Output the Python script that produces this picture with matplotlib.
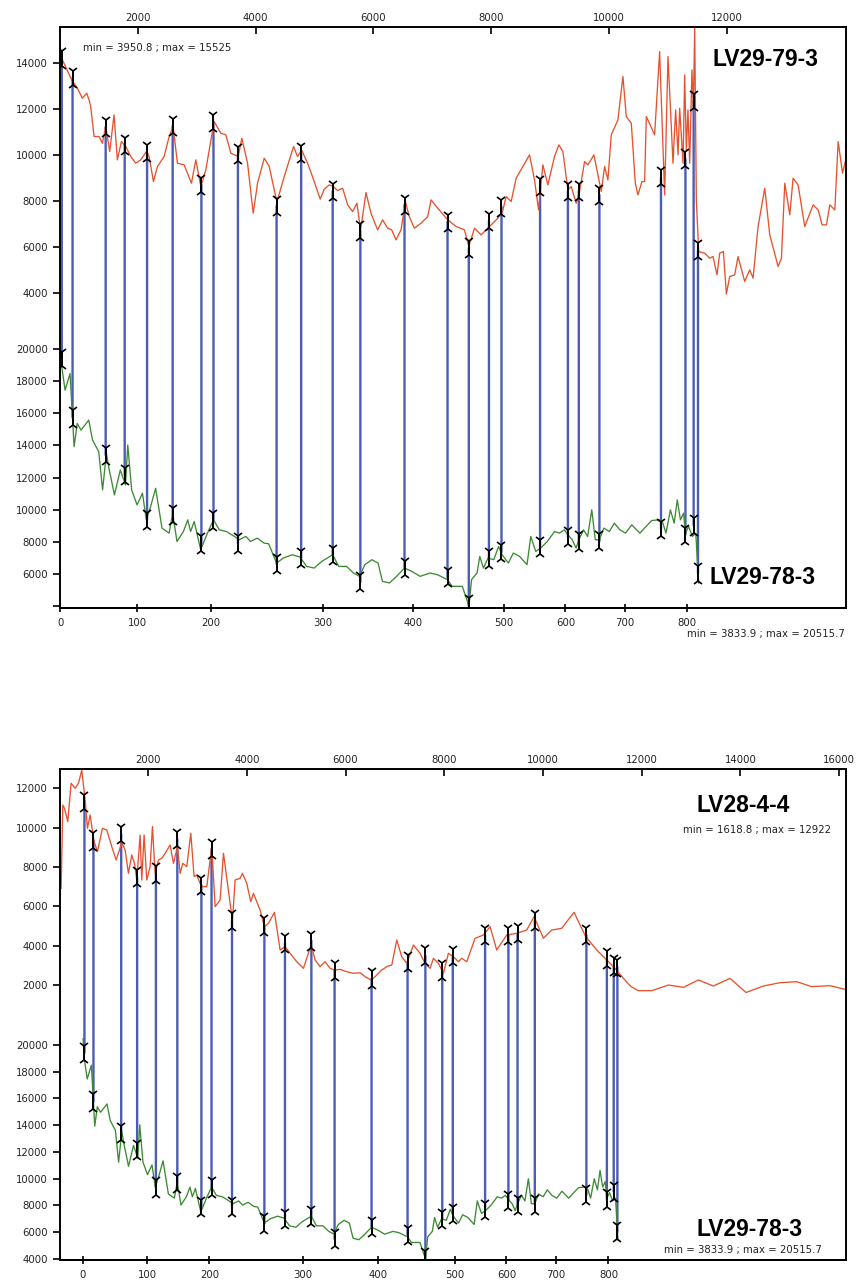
import numpy as np
import matplotlib
matplotlib.use('Agg')
import matplotlib.pyplot as plt
from matplotlib.patches import ConnectionPatch
from matplotlib.transforms import offset_copy

#==========================================================
# data
#==========================================================
# LV29-79-3 (top core of panel 1), depth on top axis
red1_depth = [708, 878, 975, 1059, 1133, 1173, 1201, 1258, 1343, 1399,
              1456, 1524, 1597, 1654, 1722, 1796, 1881, 1966, 2050, 2147,
              2192, 2266, 2334, 2447, 2532, 2600, 2673, 2787, 2911, 2985,
              3070, 3155, 3296, 3410, 3495, 3580, 3704, 3766, 3863, 3959,
              4033, 4146, 4231, 4361, 4486, 4644, 4712, 4780, 4882, 4995,
              5097, 5165, 5250, 5318, 5392, 5477, 5562, 5646, 5720, 5782,
              5873, 5958, 6071, 6156, 6241, 6309, 6383, 6468, 6541, 6609,
              6694, 6808, 6921, 6978, 7091, 7261, 7403, 7544, 7618, 7714,
              7827, 7969, 8111, 8190, 8252, 8337, 8422, 8649, 8734, 8802,
              8875, 8960, 9073, 9147, 9215, 9300, 9356, 9441, 9498, 9583,
              9640, 9742, 9810, 9866, 9923, 9979, 10036, 10149, 10234, 10291,
              10376, 10444, 10489, 10557, 10602, 10631, 10772, 10857, 10942, 10999,
              11084, 11129, 11169, 11197, 11254, 11282, 11310, 11338, 11367, 11406,
              11429, 11452, 11480, 11520, 11622, 11707, 11763, 11831, 11876, 11939,
              11990, 12046, 12131, 12188, 12301, 12386, 12443, 12528, 12641, 12726,
              12868, 12924, 12981, 13066, 13122, 13207, 13320, 13462, 13547, 13615,
              13688, 13745, 13830, 13887, 13961, 14029]
red1_val = [14203, 13261, 12899, 12464, 12682, 12392, 12102, 10798, 10798, 10508,
            11233, 10146, 11740, 9784, 10581, 10363, 9929, 9639, 9784, 10146,
            9929, 8842, 9494, 9929, 10798, 11233, 9639, 9567, 8770, 9784,
            8625, 9349, 11450, 10943, 10871, 10074, 9929, 10726, 9639, 7465,
            8770, 9856, 9494, 7950, 9059, 10363, 9929, 10219, 9639, 8842,
            8074, 8509, 8697, 8625, 8451, 8552, 7828, 7537, 7900, 6741,
            8364, 7465, 6741, 7175, 6813, 6741, 6306, 6741, 7973, 7320,
            6813, 7031, 7320, 8045, 7683, 7176, 6886, 6741, 6017, 6813,
            6523, 6886, 7248, 7537, 8190, 7973, 8987, 10001, 8915, 7610,
            9567, 8697, 9929, 10436, 10146, 8480, 8625, 7900, 8407, 9711,
            9567, 10001, 9132, 8407, 9494, 8915, 10871, 11523, 13406, 11667,
            11378, 8770, 8262, 8842, 8842, 11667, 10871, 14493, 8262, 14276,
            9639, 11957, 10001, 12030, 9639, 13479, 10219, 11957, 9639, 13696,
            11957, 15525, 8045, 5799, 5727, 5509, 5581, 4785, 5727, 5799,
            3951, 4712, 4785, 5581, 4495, 5002, 4640, 6886, 8552, 6524,
            5147, 5509, 8770, 7393, 8987, 8697, 6886, 7828, 7610, 6958,
            6958, 7828, 7610, 10581, 9204, 9929]

# LV28-4-4 (top core of panel 2)
red2_depth = [238, 272, 305, 373, 440, 521, 589, 656, 724, 771,
              825, 906, 974, 1075, 1163, 1264, 1352, 1420, 1460, 1534,
              1602, 1669, 1723, 1771, 1838, 1872, 1919, 1973, 2041, 2088,
              2142, 2210, 2277, 2345, 2446, 2514, 2595, 2649, 2703, 2784,
              2865, 2932, 2986, 3081, 3189, 3290, 3358, 3459, 3527, 3628,
              3709, 3763, 3864, 3911, 3999, 4080, 4134, 4269, 4357, 4438,
              4560, 4675, 4776, 4877, 5012, 5147, 5303, 5384, 5485, 5586,
              5688, 5775, 5890, 6025, 6160, 6295, 6396, 6518, 6599, 6734,
              6835, 6937, 7038, 7139, 7240, 7376, 7511, 7612, 7713, 7781,
              7882, 7983, 8084, 8186, 8287, 8355, 8456, 8625, 8794, 8929,
              9064, 9266, 9469, 9671, 9820, 10009, 10178, 10380, 10630, 10867,
              11090, 11292, 11461, 11630, 11785, 11934, 12204, 12542, 12846, 13149,
              13453, 13791, 14115, 14466, 14804, 15141, 15445, 15817, 16120]
red2_val = [6915, 11152, 10983, 10305, 12254, 12000, 12254, 12922, 11407, 9966,
            10644, 9288, 8779, 9966, 9881, 9034, 8356, 8864, 9288, 8864,
            7678, 8610, 8186, 7339, 9627, 7339, 9627, 7339, 8017, 10051,
            7678, 8356, 8441, 8695, 9119, 8186, 9034, 7678, 8186, 8017,
            9712, 7508, 7593, 7000, 7000, 9034, 5982, 6322, 8695, 6779,
            5254, 7339, 7424, 7678, 7169, 6237, 6661, 5813, 4966, 5135,
            5695, 3779, 3949, 3610, 3186, 2847, 4034, 3271, 2932, 3186,
            2847, 2762, 2796, 2677, 2593, 2627, 2423, 2254, 2423, 2762,
            2932, 3017, 4288, 3440, 3101, 4034, 3610, 3101, 2847, 3356,
            3101, 2593, 3610, 3440, 3186, 3356, 3186, 4373, 4542, 4966,
            3779, 4542, 4627, 4796, 5474, 4373, 4796, 4881, 5695, 4457,
            3779, 3271, 2847, 2338, 1915, 1711, 1711, 1999, 1881, 2254,
            1949, 2338, 1619, 1949, 2118, 2169, 1915, 1966, 1779]

# LV29-78-3 (bottom core, both panels), own depth scale
green_depth = [0, 2, 6, 12, 14, 17, 21, 26, 36, 41,
               49, 54, 59, 62, 70, 78, 85, 88, 93, 100,
               107, 112, 118, 125, 134, 144, 149, 155, 164, 170,
               174, 179, 188, 196, 203, 208, 214, 221, 225, 231,
               235, 241, 247, 251, 258, 264, 272, 279, 285, 292,
               299, 309, 316, 325, 333, 340, 346, 354, 361, 366,
               374, 382, 391, 399, 408, 419, 427, 438, 443, 454,
               460, 461, 464, 470, 473, 477, 482, 488, 493, 497,
               507, 515, 525, 537, 543, 551, 559, 570, 582, 590,
               598, 604, 612, 619, 624, 632, 639, 646, 652, 659,
               666, 675, 683, 692, 701, 711, 724, 743, 756, 761,
               766, 773, 779, 784, 789, 794, 797, 802, 808, 813,
               815, 817]
green_val = [20516, 18900, 17449, 18486, 16619, 13923, 15374, 14960, 15582, 14338,
             13612, 11226, 13508, 12683, 10916, 12471, 11538, 14026, 11226, 10293,
             11019, 9360, 10189, 11330, 8842, 8530, 9775, 8012, 8634, 9360,
             8634, 9257, 7494, 8530, 9360, 8738, 8634, 8323, 8116, 8323,
             8012, 8219, 7908, 7867, 6664, 6975, 7182, 7037, 6457, 6353,
             6768, 7182, 6457, 6457, 6042, 5834, 6561, 6872, 6664, 5524,
             5420, 5834, 6353, 6145, 5834, 6042, 5938, 5627, 5212, 5212,
             4175, 3834, 5627, 6042, 7079, 6353, 6975, 6872, 7701, 7182,
             6664, 7286, 7079, 6561, 8323, 7390, 7597, 8012, 8634, 8530,
             8738, 8427, 8116, 7597, 8116, 8738, 8323, 9982, 8116, 8116,
             8842, 8634, 9153, 8738, 8530, 9049, 8530, 9319, 9360, 9153,
             8530, 9982, 9153, 10604, 9360, 9775, 8530, 8945, 8323, 8530,
             6872, 5420]

# tie points: top-axis depth <-> LV29-78-3 depth
tie_d = [710, 893, 1455, 1778, 2158, 2592, 3080, 3285, 3700, 4356,
         4773, 5308, 5778, 6527, 7257, 7618, 7960, 8173, 8828, 9300,
         9485, 9835, 10880, 11295, 11434, 11508]
tie_g = [2, 15, 58, 84, 113, 149, 189, 203, 224, 258,
         280, 309, 341, 391, 438, 461, 483, 496, 558, 604,
         624, 659, 758, 797, 810, 816]
tie_green_val = [19400, 15750, 13400, 12140, 9340, 9650, 7870, 9320, 7870, 6620,
                 6980, 7160, 5480, 6350, 5790, 4030, 6950, 7350, 7660, 8300,
                 8010, 8030, 8780, 8430, 9010, 6000]
tie_red1_val = [14200, 13350, 11220, 10430, 10130, 11260, 8700, 11440, 10040, 7780,
                10090, 8430, 6700, 7830, 7090, 5960, 7130, 7740, 8650, 8430,
                8430, 8260, 9040, 9830, 12350, 5870]
tie_red2_val = [11290, 9340, 9680, 7490, 7660, 9410, 7080, 8920, 5290, 5020,
                4140, 4250, 2730, 2320, 3170, 3490, 2730, 3470, 4540, 4540,
                4630, 5290, 4540, 3340, 3000, 2920]

#==========================================================
# depth mapping (piecewise linear through ties)
#==========================================================
def interp_ext(x, xp, fp):
    x = np.asarray(x, dtype=float)
    xp = np.asarray(xp, dtype=float)
    fp = np.asarray(fp, dtype=float)
    y = np.interp(x, xp, fp)
    s0 = (fp[1] - fp[0]) / (xp[1] - xp[0])
    s1 = (fp[-1] - fp[-2]) / (xp[-1] - xp[-2])
    y = np.where(x < xp[0], fp[0] + (x - xp[0]) * s0, y)
    y = np.where(x > xp[-1], fp[-1] + (x - xp[-1]) * s1, y)
    return y

def g2d(g):
    return interp_ext(g, tie_g, tie_d)

def d2g(d):
    return interp_ext(d, tie_d, tie_g)

#==========================================================
# plot
#==========================================================
c_red = '#e5532e'
c_green = '#3e8a34'
c_blue = '#4b5cb6'
tfs = 7.3
tcol = '#222222'

fig = plt.figure(figsize=(8.59, 12.8), dpi=100)

def draw_panel(rect_top, rect_bot, xlim, ylim_top, ylim_bot, red_d, red_v, tie_red_v,
               top_xticks, red_yticks, green_ylabels):
    ax_b = fig.add_axes(rect_bot)
    ax_t = fig.add_axes(rect_top, sharex=ax_b)
    ax_t.set_zorder(2)
    ax_t.patch.set_visible(False)

    # curves
    ax_t.plot(red_d, red_v, color=c_red, lw=0.95, zorder=2)
    ax_b.plot(g2d(green_depth), green_val, color=c_green, lw=0.95, zorder=2)

    # blue tie lines
    gx = g2d(tie_g)
    for d, rv, x, gv in zip(tie_d, tie_red_v, gx, tie_green_val):
        con = ConnectionPatch(xyA=(d, rv), coordsA=ax_t.transData,
                              xyB=(x, gv), coordsB=ax_b.transData,
                              color=c_blue, lw=1.7, zorder=1, clip_on=False)
        ax_b.add_artist(con)

    # black tie markers
    for ax, xs, ys in [(ax_t, tie_d, tie_red_v), (ax_b, gx, tie_green_val)]:
        up = offset_copy(ax.transData, fig=fig, y=5.2, units='points')
        dn = offset_copy(ax.transData, fig=fig, y=-5.2, units='points')
        ax.plot(xs, ys, ls='none', marker='|', ms=10.5, mew=1.3, color='black', zorder=4)
        ax.plot(xs, ys, ls='none', marker='1', ms=8, mew=1.2, color='black', zorder=4,
                transform=up)
        ax.plot(xs, ys, ls='none', marker='2', ms=8, mew=1.2, color='black', zorder=4,
                transform=dn)

    ax_b.set_xlim(xlim)
    ax_t.set_ylim(ylim_top)
    ax_b.set_ylim(ylim_bot)

    # spines
    ax_t.spines['bottom'].set_visible(False)
    ax_b.spines['top'].set_visible(False)
    for ax in (ax_t, ax_b):
        for s in ax.spines.values():
            s.set_linewidth(1.4)

    # top axis
    ax_t.set_xticks(top_xticks)
    ax_t.tick_params(axis='x', bottom=False, labelbottom=False, top=True, labeltop=True,
                     direction='in', length=5, width=1.2, labelsize=tfs, labelcolor=tcol, pad=3)
    ax_t.set_yticks(red_yticks)
    ax_t.tick_params(axis='y', direction='out', length=5, width=1.2, labelsize=tfs,
                     labelcolor=tcol)

    ax_b.tick_params(axis='x', bottom=False, labelbottom=False, top=False)
    ax_b.set_yticks([4000, 6000, 8000, 10000, 12000, 14000, 16000, 18000, 20000])
    ax_b.set_yticklabels(green_ylabels)
    ax_b.tick_params(axis='y', direction='out', length=5, width=1.2, labelsize=tfs,
                     labelcolor=tcol)

    # bottom axis in LV29-78-3 depth
    sec = ax_b.secondary_xaxis('bottom', functions=(d2g, g2d))
    sec.set_xticks([0, 100, 200, 300, 400, 500, 600, 700, 800])
    sec.tick_params(direction='inout', length=6, width=1.2, labelsize=tfs,
                    labelcolor=tcol, pad=4)
    sec.spines['bottom'].set_linewidth(1.4)
    return ax_t, ax_b

left = 60 / 859
width = 786 / 859

# panel 1
draw_panel([left, 1 - 341 / 1280, width, 314 / 1280],
           [left, 1 - 608 / 1280, width, 267 / 1280],
           (680, 14020), (1910, 15560), (3860, 20516),
           red1_depth, red1_val, tie_red1_val,
           [2000, 4000, 6000, 8000, 10000, 12000],
           [4000, 6000, 8000, 10000, 12000, 14000],
           ['', '6000', '8000', '10000', '12000', '14000', '16000', '18000', '20000'])

# panel 2
draw_panel([left, 1 - 1038 / 1280, width, 269 / 1280],
           [left, 1 - 1260 / 1280, width, 222 / 1280],
           (215, 16140), (-694, 12981), (3900, 20520),
           red2_depth, red2_val, tie_red2_val,
           [2000, 4000, 6000, 8000, 10000, 12000, 14000, 16000],
           [2000, 4000, 6000, 8000, 10000, 12000],
           ['4000', '6000', '8000', '10000', '12000', '14000', '16000', '18000', '20000'])

# labels
def ftext(x, y, s, **kw):
    fig.text(x / 859, 1 - y / 1280, s, **kw)

ftext(83, 48, 'min = 3950.8 ; max = 15525', ha='left', va='center', fontsize=7.3, color=tcol)
ftext(765, 60, 'LV29-79-3', ha='center', va='center', fontsize=16.5,
      fontweight='bold', family='Liberation Sans')
ftext(763, 578, 'LV29-78-3', ha='center', va='center', fontsize=16.5,
      fontweight='bold', family='Liberation Sans')
ftext(845, 634, 'min = 3833.9 ; max = 20515.7', ha='right', va='center', fontsize=7.3, color=tcol)

ftext(743, 805, 'LV28-4-4', ha='center', va='center', fontsize=16.5,
      fontweight='bold', family='Liberation Sans')
ftext(757, 830, 'min = 1618.8 ; max = 12922', ha='center', va='center', fontsize=7.3, color=tcol)
ftext(750, 1229, 'LV29-78-3', ha='center', va='center', fontsize=16.5,
      fontweight='bold', family='Liberation Sans')
ftext(743, 1250, 'min = 3833.9 ; max = 20515.7', ha='center', va='center', fontsize=7.3, color=tcol)

plt.savefig('out.png', dpi=100)
plt.close()
